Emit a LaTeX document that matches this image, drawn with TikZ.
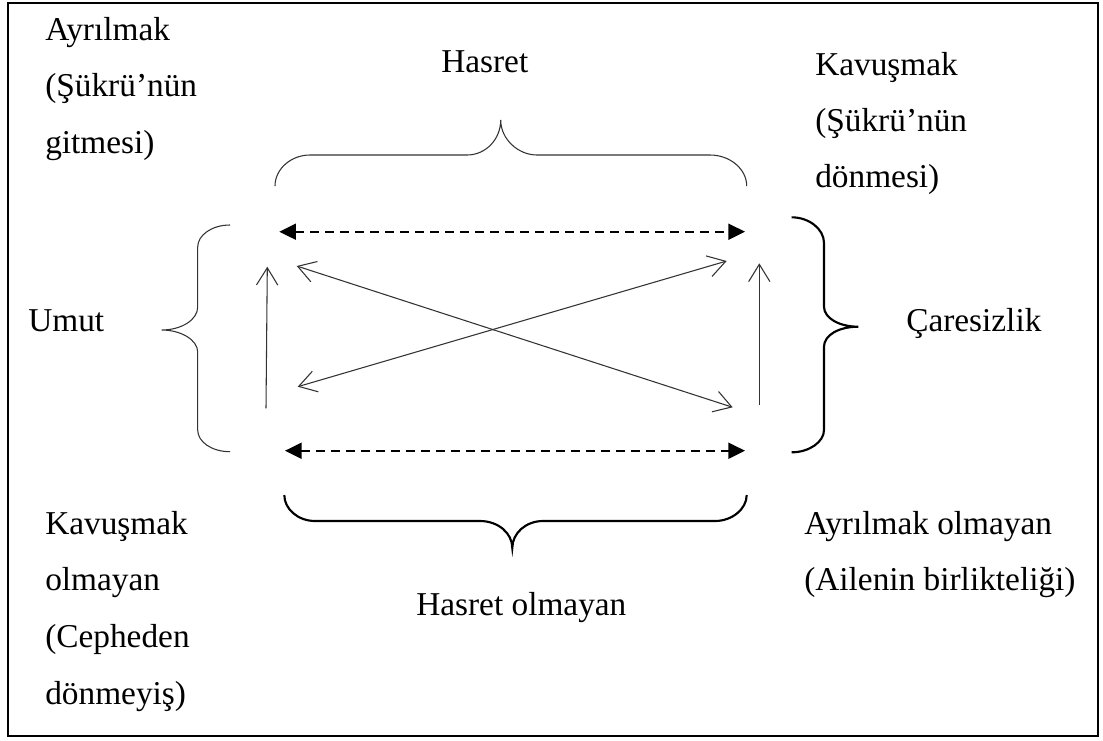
\documentclass[tikz,border=0pt]{standalone}
\usepackage{fontspec}
\setmainfont{Liberation Serif}
\usetikzlibrary{arrows.meta}
\tikzset{
  vbarb/.tip={Straight Barb[length=13pt,width=16pt]},
  headtri/.tip={Triangle[length=12.5pt,width=12pt]},
}
\begin{document}
\begin{tikzpicture}[x=0.75pt,y=-0.75pt,
  txt/.style={inner sep=0pt, anchor=base west, font=\fontsize{25}{30}\selectfont},
  fine/.style={line width=0.8pt, draw=black!80},
  bold/.style={line width=1.6pt, draw=black},
  pairdash/.style={line width=1.5pt, draw=black, dash pattern=on 6.75pt off 4.5pt, {headtri}-{headtri}},
  oneway/.style={fine, -{vbarb}},
  twoway/.style={fine, {vbarb}-{vbarb}},
]
% page and frame
\fill[white] (0,0) rectangle (1103,740);
\useasboundingbox (0,0) rectangle (1103,740);
\draw[line width=1.2pt] (8,3) rectangle (1098,736);

% corner and side labels
\node[txt] (tl1) at (45,40) {Ayrılmak};
\node[txt] (tl2) at (45,96.5) {(Şükrü’nün};
\node[txt] (tl3) at (45,153) {gitmesi)};
\node[txt] (tr1) at (815,75.5) {Kavuşmak};
\node[txt] (tr2) at (815,131) {(Şükrü’nün};
\node[txt] (tr3) at (815,187) {dönmesi)};
\node[txt] (top) at (441,72) {Hasret};
\node[txt] (lft) at (28,331) {Umut};
\node[txt] (rgt) at (906,331) {Çaresizlik};
\node[txt] (bl1) at (45,534) {Kavuşmak};
\node[txt] (bl2) at (45,590) {olmayan};
\node[txt] (bl3) at (45,647) {(Cepheden};
\node[txt] (bl4) at (45,704) {dönmeyiş)};
\node[txt] (br1) at (804,534) {Ayrılmak olmayan};
\node[txt] (br2) at (804,590) {(Ailenin birlikteliği)};
\node[txt] (bot) at (416,615) {Hasret olmayan};

% braces
\draw[fine] (275,186) .. controls (275,169) and (291,155) .. (310,155)
  -- (467,155) .. controls (486,155) and (500.7,139) .. (500.7,120)
  .. controls (500.7,139) and (518,155) .. (537,155)
  -- (710,155) .. controls (730,155) and (746.7,169) .. (746.7,186);
\draw[bold] (284.3,495) .. controls (284.3,509) and (298,521) .. (315,521)
  -- (480,521) .. controls (498,521) and (512.3,533) .. (512.3,548)
  .. controls (512.3,533) and (526,521) .. (543,521)
  -- (715,521) .. controls (732,521) and (746.7,509) .. (746.7,495);
\draw[fine] (230,225) .. controls (212,225) and (197.7,235) .. (197.7,247)
  -- (197.7,307) .. controls (197.7,320) and (181,330) .. (161.7,330)
  .. controls (181,330) and (197.7,340) .. (197.7,352)
  -- (197.7,430) .. controls (197.7,442) and (212,451.7) .. (230,451.7);
\draw[bold] (791.7,217.3) .. controls (809,217.3) and (824,229) .. (824,243)
  -- (824,306.7) .. controls (824,318) and (839,326.7) .. (858.3,326.7)
  .. controls (839,326.7) and (824,335) .. (824,346.7)
  -- (824,430) .. controls (824,442) and (809,452.3) .. (791.7,452.3);

% connector end points
\coordinate (dtl) at (279.3,231.7);
\coordinate (dtr) at (745,231.7);
\coordinate (dbl) at (285,450.7);
\coordinate (dbr) at (745,450.7);
\coordinate (vl0) at (266,408.3);
\coordinate (vl1) at (267.3,266.7);
\coordinate (vr0) at (759.3,405);
\coordinate (vr1) at (759.3,263.3);
\coordinate (xa0) at (296.7,266);
\coordinate (xa1) at (732.7,407.3);
\coordinate (xb0) at (297.7,386.7);
\coordinate (xb1) at (726.7,261);

% connectors
\draw[pairdash] (dtl) -- (dtr);
\draw[pairdash] (dbl) -- (dbr);
\draw[oneway] (vl0) -- (vl1);
\draw[oneway] (vr0) -- (vr1);
\draw[twoway] (xa0) -- (xa1);
\draw[twoway] (xb0) -- (xb1);
\end{tikzpicture}
\end{document}
